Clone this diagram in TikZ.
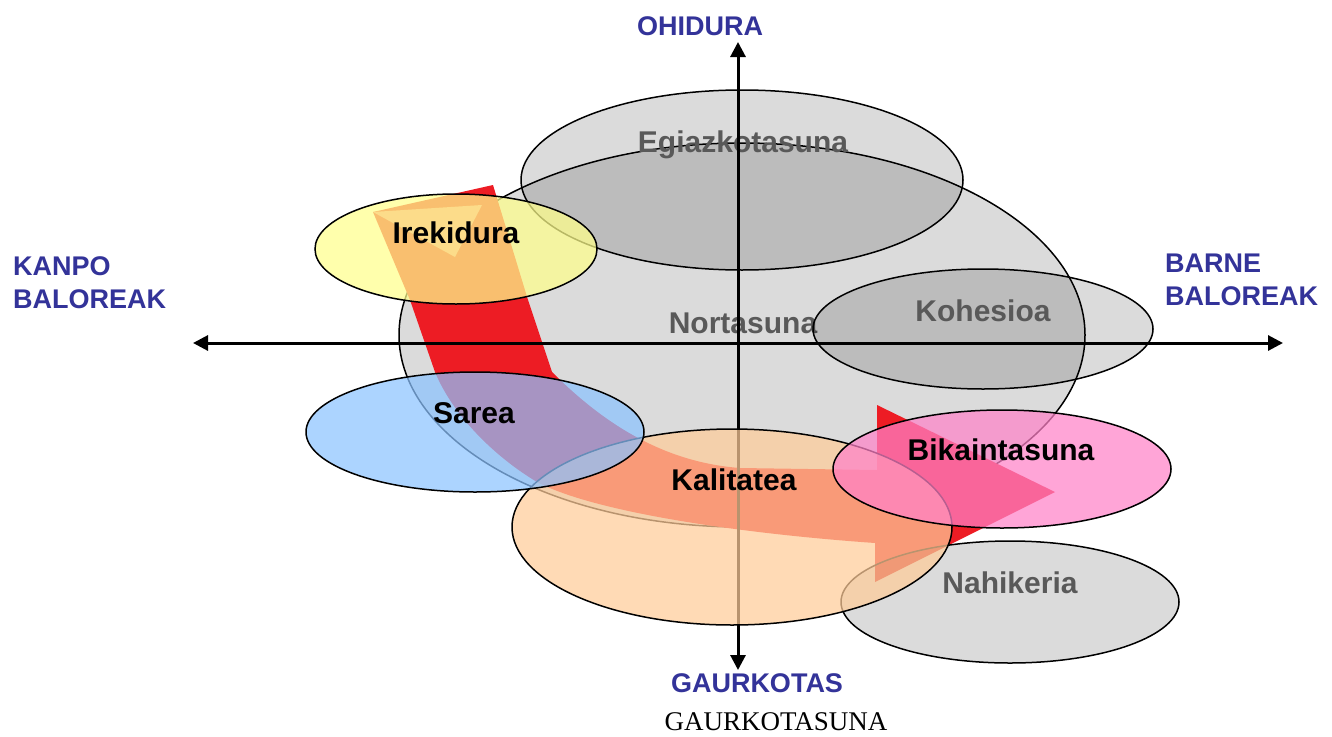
\documentclass[tikz,border=0pt]{standalone}
\usepackage{fontspec}
\setmainfont{Liberation Sans}
\newfontfamily\timesfont{Liberation Serif}
\usepackage{xcolor}
\usepackage{tikz}
\usetikzlibrary{arrows.meta,shapes.geometric}
\definecolor{arrowred}{RGB}{237,28,36}
\definecolor{axisblue}{RGB}{51,51,153}
\definecolor{labgrey}{RGB}{89,89,89}
\definecolor{ireyellow}{RGB}{255,255,140}
\definecolor{sareblue}{RGB}{140,195,255}
\definecolor{kalpeach}{RGB}{255,204,153}
\definecolor{bikpink}{RGB}{255,130,200}
\tikzset{
  >={Triangle[length=15pt,width=15pt]},
  blob/.style={ellipse, draw, line width=1.5pt, inner sep=0pt},
  greyblob/.style={blob, fill=black, fill opacity=0.14},
  colblob/.style={blob, fill=#1, fill opacity=0.72},
  lbl/.style={font=\fontsize{30}{32}\selectfont\bfseries, anchor=base, inner sep=0pt},
  greylbl/.style={lbl, text=labgrey},
  axislbl/.style={font=\fontsize{27}{33}\selectfont\bfseries, text=axisblue, inner sep=0pt, align=left},
  axis/.style={<->, line width=3pt},
}

\begin{document}
\begin{tikzpicture}[x=1pt, y=-1pt]
  \useasboundingbox (0,0) rectangle (1332,736);

  % back ellipses
  \node[greyblob, minimum width=686pt, minimum height=384pt] (nort) at (742,335) {};
  \node[greylbl] (nortlbl) at (743,333) {Nortasuna};
  \node[greyblob, minimum width=442pt, minimum height=180pt] (egia) at (742,180) {};
  \node[greylbl] (egialbl) at (743,152) {Egiazkotasuna};
  \node[greyblob, minimum width=340pt, minimum height=120pt] (kohe) at (983,329) {};
  \node[greylbl] (kohelbl) at (983,321) {Kohesioa};

  % curved arrow
  \fill[arrowred] (493,185) -- (528,300) -- (552,372)
    .. controls (600,420) and (660,462) .. (740,468) -- (877,470)
    -- (877,405) -- (1055,492) -- (953,543) -- (875,582) -- (875,543)
    .. controls (760,535) and (600,515) .. (537,482)
    .. controls (500,460) and (455,420) .. (435,372)
    -- (410,300) -- (373,212) -- cycle;
  \fill[arrowred!55!white] (373,212) -- (455,257) -- (482,205) -- cycle;

  % axes
  \coordinate (west) at (193,343);
  \coordinate (east) at (1283,343);
  \coordinate (north) at (738,42);
  \coordinate (south) at (738,670);
  \draw[axis] (west) -- (east);
  \draw[axis] (south) -- (north);

  % front ellipses
  \node[colblob=ireyellow, minimum width=282pt, minimum height=110pt] (irek) at (456,249) {};
  \node[lbl] (ireklbl) at (456,243) {Irekidura};
  \node[greyblob, minimum width=338pt, minimum height=122pt] (nahi) at (1010,602) {};
  \node[greylbl] (nahilbl) at (1010,593) {Nahikeria};
  \node[colblob=kalpeach, minimum width=440pt, minimum height=196pt] (kali) at (732,527) {};
  \node[lbl] (kalilbl) at (734,490) {Kalitatea};
  \node[colblob=sareblue, minimum width=338pt, minimum height=120pt] (sare) at (475,432) {};
  \node[lbl] (sarelbl) at (474,423) {Sarea};
  \node[colblob=bikpink, minimum width=338pt, minimum height=118pt] (bika) at (1002,469) {};
  \node[lbl] (bikalbl) at (1001,460) {Bikaintasuna};

  % axis labels
  \node[axislbl, anchor=base] (ohid) at (700,35) {OHIDURA};
  \node[axislbl, anchor=base] (gaur) at (757,692) {GAURKOTAS};
  \node[axislbl, anchor=north west] (kanpo) at (13,256) {KANPO\\BALOREAK};
  \node[axislbl, anchor=north west] (barne) at (1165,254) {BARNE\\BALOREAK};
  \node[font=\timesfont\fontsize{27}{29}\selectfont, anchor=base, inner sep=0pt] (gaurfull) at (776,730) {GAURKOTASUNA};
\end{tikzpicture}
\end{document}
